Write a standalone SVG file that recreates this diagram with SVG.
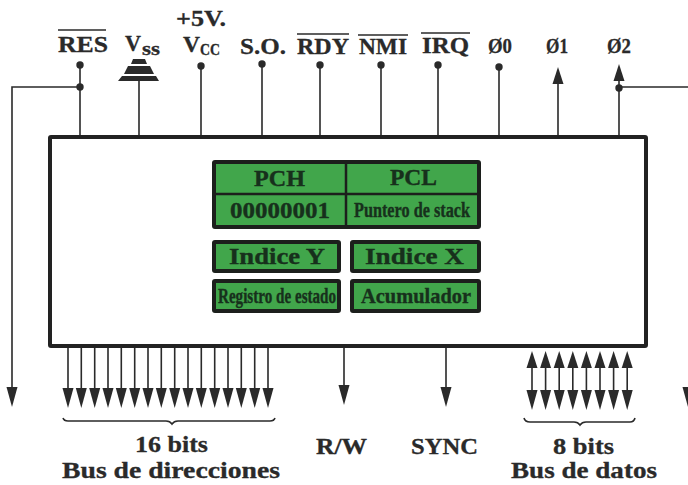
<svg xmlns="http://www.w3.org/2000/svg" width="688" height="485" viewBox="0 0 688 485">
<style>
text{font-family:"Liberation Serif","DejaVu Serif",serif;font-weight:bold;fill:#2a2a2a;font-size:23.500px;stroke:#2a2a2a;stroke-width:.3}
.sub{font-size:19px}
.g{font-size:23px;fill:#17301c;stroke:#17301c;stroke-width:.35}
.w{fill:none;stroke:#2a2a2a;stroke-width:1.6}
.o{fill:none;stroke:#2a2a2a;stroke-width:1.6}
.bk{fill:none;stroke:#222;stroke-width:4;stroke-linejoin:round}
.reg{fill:#41a64b;stroke:#1c1f1c;stroke-width:4;stroke-linejoin:round}
.div{stroke:#1c1f1c;stroke-width:2.5;fill:none}
.d{fill:#2a2a2a}
</style>
<defs>
<path id="dn" class="d" d="M-5.500 -20L5.500 -20L0 0Z"/>
<path id="up" class="d" d="M-5.500 17L5.500 17L0 0Z"/>
<circle id="dot" class="d" r="3.700"/>
</defs>
<g id="connectors">
<path class="w" d="M80 65V137M80 87H12V392"/>
<path class="w" d="M139 81V137M201 66V137M262 65V137M320 65V137M381 65V137M438 65V137M499 67V137M558 80V137M619 78V137M619 87H688"/>
<path class="w" d="M68 346V392M81.300 346V392M94.700 346V392M108 346V392M121.300 346V392M134.700 346V392M148 346V392M161.300 346V392M174.700 346V392M188 346V392M201.300 346V392M214.700 346V392M228 346V392M241.300 346V392M254.700 346V392M268 346V392"/>
<path class="w" d="M344 346V392M446 346V392"/>
<path class="w" d="M532 365V394M545.600 365V394M559.200 365V394M572.800 365V394M586.400 365V394M600 365V394M613.600 365V394M627.200 365V394"/>
<g>
<use href="#dot" x="80" y="65"/><use href="#dot" x="80" y="87"/><use href="#dot" x="201" y="66"/><use href="#dot" x="262" y="64"/><use href="#dot" x="320" y="65"/><use href="#dot" x="381" y="65"/><use href="#dot" x="438" y="65"/><use href="#dot" x="499" y="67"/><use href="#dot" x="619" y="88"/>
<use href="#up" x="558" y="67"/><use href="#up" x="619" y="64"/>
<use href="#dn" x="12" y="407"/><use href="#dn" x="688" y="407"/>
<use href="#dn" x="68" y="408"/><use href="#dn" x="81.300" y="408"/><use href="#dn" x="94.700" y="408"/><use href="#dn" x="108" y="408"/><use href="#dn" x="121.300" y="408"/><use href="#dn" x="134.700" y="408"/><use href="#dn" x="148" y="408"/><use href="#dn" x="161.300" y="408"/><use href="#dn" x="174.700" y="408"/><use href="#dn" x="188" y="408"/><use href="#dn" x="201.300" y="408"/><use href="#dn" x="214.700" y="408"/><use href="#dn" x="228" y="408"/><use href="#dn" x="241.300" y="408"/><use href="#dn" x="254.700" y="408"/><use href="#dn" x="268" y="408"/>
<use href="#dn" x="344" y="405"/><use href="#dn" x="446" y="407"/>
<use href="#up" x="532" y="351"/><use href="#up" x="545.600" y="351"/><use href="#up" x="559.200" y="351"/><use href="#up" x="572.800" y="351"/><use href="#up" x="586.400" y="351"/><use href="#up" x="600" y="351"/><use href="#up" x="613.600" y="351"/><use href="#up" x="627.200" y="351"/>
<use href="#dn" x="532" y="410"/><use href="#dn" x="545.600" y="410"/><use href="#dn" x="559.200" y="410"/><use href="#dn" x="572.800" y="410"/><use href="#dn" x="586.400" y="410"/><use href="#dn" x="600" y="410"/><use href="#dn" x="613.600" y="410"/><use href="#dn" x="627.200" y="410"/>
</g>
<path class="w" d="M63 418Q64 421 68 421H166Q170 421 172 424Q174 421 178 421H270Q274 421 275 418"/>
<path class="w" d="M524 418Q525 422 530 422H574Q578 422 580 425Q582 422 586 422H630Q634 422 635 418"/>
</g>
<g id="vss-symbol">
<path class="d" d="M133 59H145L147 64H131ZM128 66H150L154 74H124ZM122 76H156L159 81H118Z"/>
</g>
<g id="chip"><rect class="bk" x="50" y="137" width="596" height="209" rx="1"/></g>
<g id="reg-top">
<rect class="reg" x="214" y="162" width="265" height="65" rx="1"/>
<path class="div" d="M346 162V227M214 194H479"/>
<text class="g" x="254" y="186" textLength="51" lengthAdjust="spacingAndGlyphs">PCH</text>
<text class="g" x="390" y="185" textLength="47" lengthAdjust="spacingAndGlyphs">PCL</text>
<text class="g" x="230" y="218" textLength="100" lengthAdjust="spacingAndGlyphs">00000001</text>
<text class="g" transform="translate(354 217) scale(.8 1)" textLength="145" lengthAdjust="spacingAndGlyphs" style="font-size:21px">Puntero de stack</text>
</g>
<g id="reg-y"><rect class="reg" x="214" y="242" width="125" height="29" rx="1"/><text class="g" x="229" y="264" textLength="96" lengthAdjust="spacingAndGlyphs">Indice Y</text></g>
<g id="reg-x"><rect class="reg" x="352" y="242" width="127" height="29" rx="1"/><text class="g" x="365" y="264" textLength="99" lengthAdjust="spacingAndGlyphs">Indice X</text></g>
<g id="reg-status"><rect class="reg" x="214" y="281" width="125" height="30" rx="1"/><text class="g" transform="translate(218 303) scale(.72 1)" textLength="164" lengthAdjust="spacingAndGlyphs" style="font-size:21px">Registro de estado</text></g>
<g id="reg-acc"><rect class="reg" x="352" y="281" width="127" height="30" rx="1"/><text class="g" x="361" y="303" textLength="110" lengthAdjust="spacingAndGlyphs" style="font-size:22px">Acumulador</text></g>
<g id="labels">
<text x="58" y="52" textLength="50" lengthAdjust="spacingAndGlyphs">RES</text><path class="o" d="M58 30H106"/>
<text x="125" y="51" textLength="16" lengthAdjust="spacingAndGlyphs">V</text><text class="sub" x="142" y="55" textLength="18" lengthAdjust="spacingAndGlyphs">ss</text>
<text x="176" y="26" textLength="50" lengthAdjust="spacingAndGlyphs">+5V.</text>
<text x="183" y="52" textLength="17" lengthAdjust="spacingAndGlyphs">V</text><text class="sub" x="200" y="55" textLength="20" lengthAdjust="spacingAndGlyphs" style="font-size:16px">CC</text>
<text x="240" y="54" textLength="46" lengthAdjust="spacingAndGlyphs">S.O.</text>
<text x="297" y="54" textLength="52" lengthAdjust="spacingAndGlyphs">RDY</text><path class="o" d="M297 34H349"/>
<text x="359" y="54" textLength="48" lengthAdjust="spacingAndGlyphs">NMI</text><path class="o" d="M358 35H408"/>
<text x="422" y="53" textLength="47" lengthAdjust="spacingAndGlyphs">IRQ</text><path class="o" d="M421 33H470"/>
<text x="488" y="53" textLength="24" lengthAdjust="spacingAndGlyphs" style="font-size:21px">Ø0</text>
<text x="546" y="53" textLength="22" lengthAdjust="spacingAndGlyphs" style="font-size:21px">Ø1</text>
<text x="607" y="53" textLength="24" lengthAdjust="spacingAndGlyphs" style="font-size:21px">Ø2</text>
<text x="135" y="452" textLength="73" lengthAdjust="spacingAndGlyphs">16 bits</text>
<text x="62" y="478" textLength="218" lengthAdjust="spacingAndGlyphs">Bus de direcciones</text>
<text x="316" y="454" textLength="51" lengthAdjust="spacingAndGlyphs">R/W</text>
<text x="411" y="454" textLength="67" lengthAdjust="spacingAndGlyphs">SYNC</text>
<text x="553" y="454" textLength="61" lengthAdjust="spacingAndGlyphs">8 bits</text>
<text x="511" y="478" textLength="146" lengthAdjust="spacingAndGlyphs">Bus de datos</text>
</g>
</svg>
